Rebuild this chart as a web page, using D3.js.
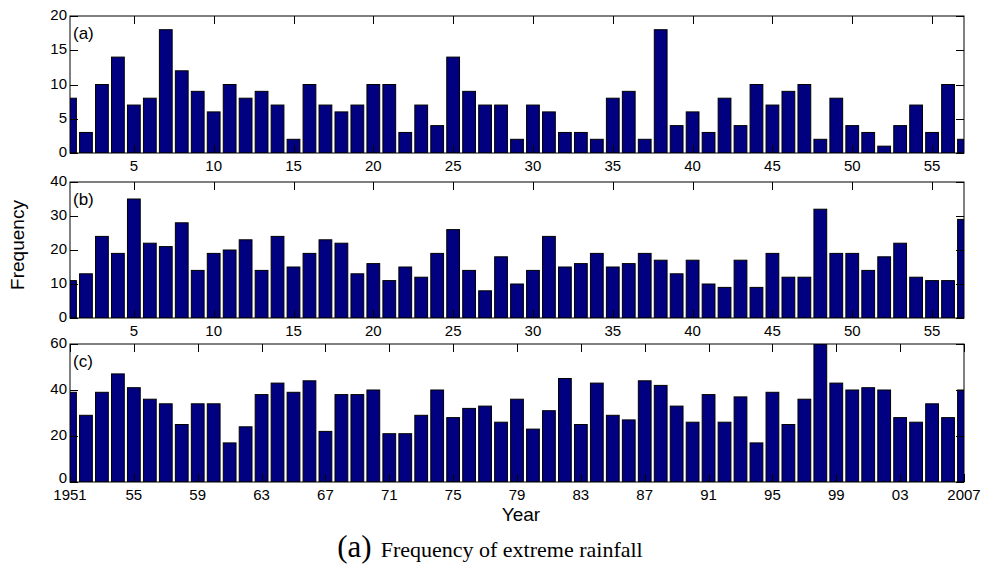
<!DOCTYPE html>
<html>
<head>
<meta charset="utf-8">
<script src="https://cdn.jsdelivr.net/npm/d3@7/dist/d3.min.js"></script>
<style>
  html, body { margin: 0; padding: 0; background: #fff; }
  svg { display: block; }
  text { font-family: "Liberation Sans", Arial, Helvetica, sans-serif; fill: #000; }
</style>
</head>
<body>
<svg id="chart" width="982" height="571"></svg>
<script>
// ---- data ----
const years = d3.range(1951, 2008);
const seriesA = [8,3,10,14,7,8,18,12,9,6,10,8,9,7,2,10,7,6,7,10,10,3,7,4,14,9,7,7,2,7,6,3,3,2,8,9,2,18,4,6,3,8,4,10,7,9,10,2,8,4,3,1,4,7,3,10,2];
const seriesB = [11,13,24,19,35,22,21,28,14,19,20,23,14,24,15,19,23,22,13,16,11,15,12,19,26,14,8,18,10,14,24,15,16,19,15,16,19,17,13,17,10,9,17,9,19,12,12,32,19,19,14,18,22,12,11,11,29];
const seriesC = [39,29,39,47,41,36,34,25,34,34,17,24,38,43,39,44,22,38,38,40,21,21,29,40,28,32,33,26,36,23,31,45,25,43,29,27,44,42,33,26,38,26,37,17,39,25,36,60,43,40,41,40,28,26,34,28,40];
const ticksA = [0,5,10,15,20];
const ticksB = [0,10,20,30,40];
const ticksC = [0,20,40,60];
const xTicksIndex = [5,10,15,20,25,30,35,40,45,50,55];
const xTicksYearPos = [1,5,9,13,17,21,25,29,33,37,41,45,49,53,57];
const xTicksYearLabels = ["1951","55","59","63","67","71","75","79","83","87","91","95","99","03","2007"];
const panelLabels = ["(a)","(b)","(c)"];

// ---- layout ----
const svg = d3.select("#chart");
const L = 70, R = 964;
const panels = [
  {top: 16, bottom: 153, data: seriesA, ymax: 20, yticks: ticksA, xticks: xTicksIndex, xlabels: xTicksIndex.map(String), label: panelLabels[0]},
  {top: 182, bottom: 318, data: seriesB, ymax: 40, yticks: ticksB, xticks: xTicksIndex, xlabels: xTicksIndex.map(String), label: panelLabels[1]},
  {top: 344, bottom: 482, data: seriesC, ymax: 60, yticks: ticksC, xticks: xTicksYearPos, xlabels: xTicksYearLabels, label: panelLabels[2]}
];
const x = d3.scaleLinear().domain([1, 57]).range([L, R]);
const step = x(2) - x(1);
const barW = step * 0.8;
const tickLen = 8;

panels.forEach((p, pi) => {
  const y = d3.scaleLinear().domain([0, p.ymax]).range([p.bottom, p.top]);
  const g = svg.append("g");
  const clipId = "clip" + pi;
  svg.append("clipPath").attr("id", clipId)
    .append("rect").attr("x", L).attr("y", p.top).attr("width", R - L).attr("height", p.bottom - p.top);

  g.append("g").attr("clip-path", `url(#${clipId})`)
    .selectAll("rect").data(p.data).join("rect")
    .attr("x", (d, i) => x(i + 1) - barW / 2)
    .attr("y", d => y(d))
    .attr("width", barW)
    .attr("height", d => y(0) - y(d))
    .attr("fill", "#000080")
    .attr("stroke", "#000")
    .attr("stroke-width", 1);

  // box
  g.append("rect").attr("x", L).attr("y", p.top).attr("width", R - L).attr("height", p.bottom - p.top)
    .attr("fill", "none").attr("stroke", "#000").attr("stroke-width", 1);

  // x ticks (inward, bottom and top)
  p.xticks.forEach((t, i) => {
    const xx = Math.round(x(t)) + 0.5;
    g.append("line").attr("x1", xx).attr("x2", xx).attr("y1", p.bottom).attr("y2", p.bottom - tickLen).attr("stroke", "#000");
    g.append("line").attr("x1", xx).attr("x2", xx).attr("y1", p.top).attr("y2", p.top + tickLen).attr("stroke", "#000");
    g.append("text").attr("x", x(t)).attr("y", p.bottom + 18)
      .attr("text-anchor", "middle").attr("font-size", 15).text(p.xlabels[i]);
  });

  // y ticks (inward, left and right)
  p.yticks.forEach(t => {
    const yy = Math.round(y(t)) + 0.5;
    g.append("line").attr("x1", L).attr("x2", L + tickLen).attr("y1", yy).attr("y2", yy).attr("stroke", "#000");
    g.append("line").attr("x1", R).attr("x2", R - tickLen).attr("y1", yy).attr("y2", yy).attr("stroke", "#000");
    const dy = (pi === 2 && t === 0) ? 1 : 4;
    g.append("text").attr("x", 67).attr("y", y(t) + dy)
      .attr("text-anchor", "end").attr("font-size", 15).text(t);
  });

  g.append("text").attr("x", 73).attr("y", p.top + 23).attr("font-size", 17).text(p.label);
});

// axis titles
svg.append("text").attr("transform", "translate(24,245) rotate(-90)")
  .attr("text-anchor", "middle").attr("font-size", 19).text("Frequency");
svg.append("text").attr("x", 521).attr("y", 521)
  .attr("text-anchor", "middle").attr("font-size", 19).text("Year");

// caption
const cap = svg.append("text").attr("x", 490).attr("y", 557).attr("text-anchor", "middle")
  .style("font-family", "'Liberation Serif', 'Times New Roman', serif");
cap.append("tspan").attr("font-size", 31).text("(a)");
cap.append("tspan").attr("font-size", 22).attr("dx", 9).text("Frequency of extreme rainfall");
</script>
</body>
</html>
